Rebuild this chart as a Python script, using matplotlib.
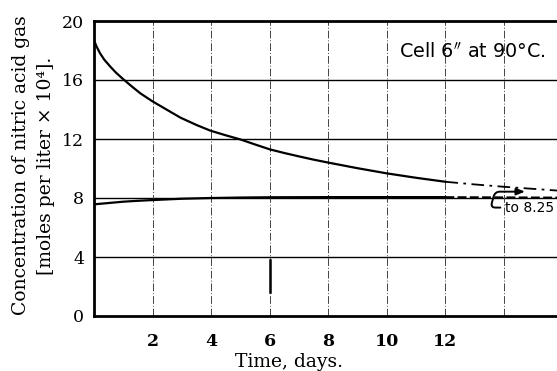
import matplotlib
matplotlib.use("Agg")
import matplotlib.pyplot as plt

# Data
upper_days = [0, 0.05, 0.1, 0.21, 0.35, 0.56, 0.75, 1.0, 1.3, 1.58, 2.0, 2.5, 2.95, 3.5, 3.97,
              4.5, 5.0, 5.5, 6.0, 6.5, 7.0, 7.5, 8.0, 9.0, 10.0, 11.0, 12.0]
upper_vals = [18.7, 18.45, 18.22, 17.8, 17.38, 16.9, 16.5, 16.05, 15.55, 15.1, 14.55, 13.97, 13.45, 12.95, 12.57,
              12.25, 11.97, 11.63, 11.3, 11.05, 10.82, 10.6, 10.4, 10.02, 9.67, 9.37, 9.1]
upper_ext_days = [12, 13, 14, 15, 15.85]
upper_ext_vals = [9.1, 8.92, 8.76, 8.62, 8.5]

lower_days = [0, 0.5, 1, 1.5, 2, 3, 4, 5, 6, 8, 10, 12]
lower_vals = [7.57, 7.66, 7.75, 7.81, 7.86, 7.95, 8.0, 8.03, 8.05, 8.06, 8.06, 8.06]
lower_ext_days = [12, 15.85]
lower_ext_vals = [8.05, 8.02]

x_ticks = [2, 4, 6, 8, 10, 12]
y_ticks = [0, 4, 8, 12, 16, 20]
v_grid = [2, 4, 6, 8, 10, 12, 14]
h_grid = [4, 8, 12, 16]

W, H = 557, 371
fig = plt.figure(figsize=(W / 100, H / 100), dpi=100)
ax = fig.add_axes([94 / W, (H - 316) / H, (W - 94) / W, (316 - 21) / H])
ax.set_xlim(0, (W - 93.7) / 29.3)
ax.set_ylim(0, 20)

for s in ["left", "top", "bottom"]:
    ax.spines[s].set_linewidth(2.0)
    ax.spines[s].set_color("black")
ax.spines["right"].set_visible(False)

for g in h_grid:
    ax.axhline(g, color="black", lw=1.0, zorder=1)
for g in v_grid:
    ax.axvline(g, color="#444444", lw=0.7, ls=(0, (8, 2, 1, 2)), zorder=1)
# heavy dash artefact on the 6-day gridline
ax.axvline(6, ymin=1.63 / 20, ymax=3.8 / 20, color="black", lw=1.8, zorder=2)

ax.plot(upper_days, upper_vals, color="black", lw=1.6, zorder=3, solid_joinstyle="round")
ax.plot(upper_ext_days, upper_ext_vals, color="black", lw=1.3, ls=(0, (7, 3, 1.5, 3)), zorder=3)
ax.plot(lower_days, lower_vals, color="black", lw=1.6, zorder=3)
ax.plot(lower_ext_days, lower_ext_vals, color="black", lw=1.6, ls=(0, (4, 1.5)), zorder=3)

ax.set_xticks(x_ticks)
ax.set_yticks(y_ticks)
ax.set_xticklabels([str(t) for t in x_ticks], fontfamily="DejaVu Serif", fontsize=12.5, fontweight="bold")
ax.set_yticklabels([str(t) for t in y_ticks], fontfamily="DejaVu Serif", fontsize=12.5)
ax.tick_params(axis="both", length=0)
ax.tick_params(axis="x", pad=12)
ax.tick_params(axis="y", pad=7)

ax.set_xlabel("Time, days.", fontfamily="DejaVu Serif", fontsize=13.5)
ax.xaxis.label.set_va("center")
ax.xaxis.set_label_coords((289 - 94) / 463, -46 / 295)

ax.set_ylabel("Concentration of nitric acid gas\n[moles per liter × 10⁴].",
              fontfamily="DejaVu Serif", fontsize=13.5, linespacing=1.43)
ax.yaxis.label.set_va("center")
ax.yaxis.set_label_coords((33.5 - 94) / 463, 0.51)

ax.text(0.975, (316 - 52) / 295, "Cell 6$^{\\prime\\prime}$ at 90°C.", transform=ax.transAxes,
        ha="right", va="center", fontfamily="DejaVu Sans", fontsize=13.8)

ax.annotate("to 8.25", xy=(14.72, 8.43), xytext=(14.02, 7.35),
            fontfamily="DejaVu Sans", fontsize=10, ha="left", va="center",
            arrowprops=dict(arrowstyle="-|>,head_length=0.5,head_width=0.2", color="black", lw=1.4,
                            relpos=(0, 0.5),
                            connectionstyle="arc,angleA=180,angleB=180,armA=14,armB=30,rad=5",
                            shrinkA=1, shrinkB=0))

fig.savefig("out.png", dpi=100)
